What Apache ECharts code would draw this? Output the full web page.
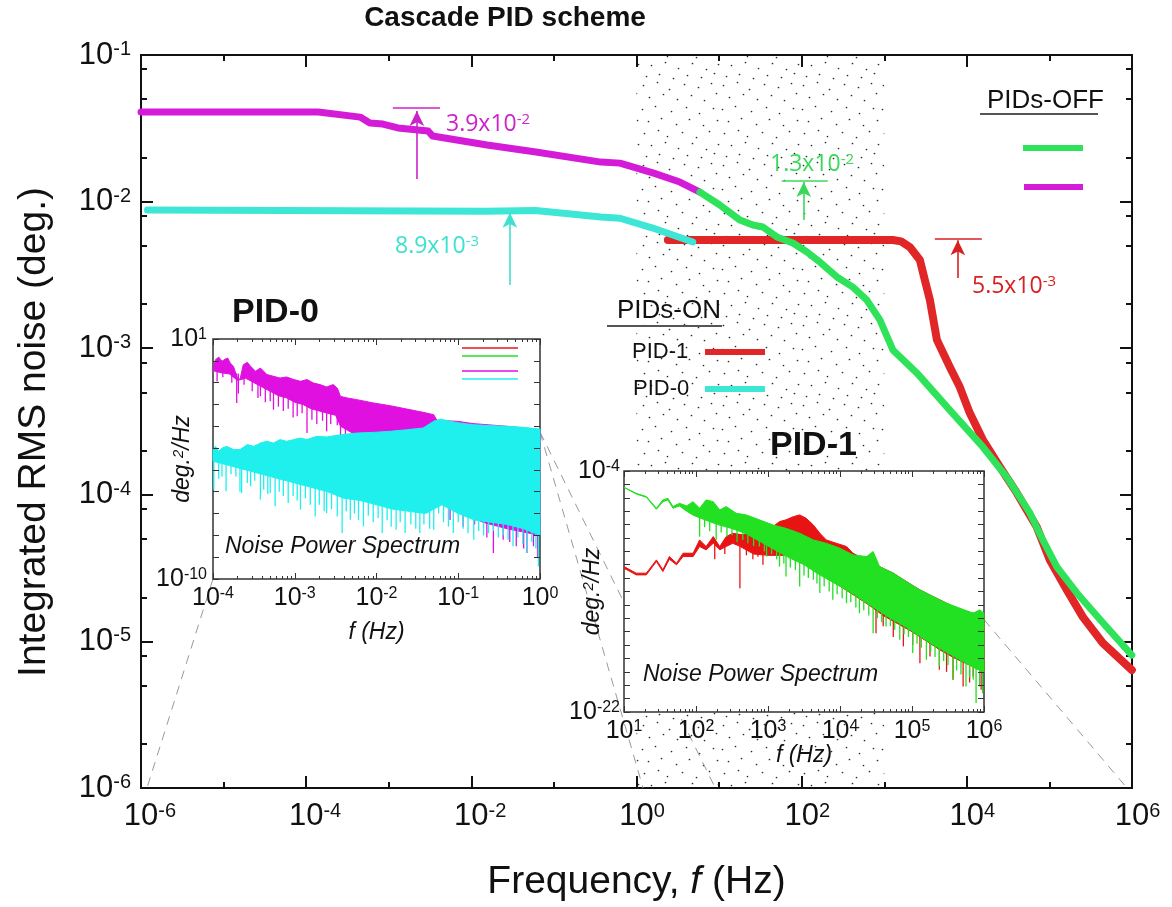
<!DOCTYPE html>
<html><head><meta charset="utf-8">
<script src="https://cdn.jsdelivr.net/npm/echarts@6/dist/echarts.min.js"></script>
<style>html,body{margin:0;padding:0;background:#fff;}#c{width:1172px;height:907px;}</style>
</head><body><div id="c"></div>
<script>
// ===== Main chart: integrated RMS noise curves, [frequency (Hz), noise (deg.)] =====
const offPid0 = [[1e-6,0.0408],[1.4e-4,0.0408],[4.5e-4,0.0377],[5.9e-4,0.0344],[8.5e-4,0.0338],[1.29e-3,0.0318],[3.0e-3,0.0303],[3.4e-3,0.0280],[0.0155,0.0243],[0.0605,0.0218],[0.371,0.0186],[0.63,0.0183],[1.58,0.0157],[3.35,0.0136],[5.86,0.0116]];
const offPid1 = [[5.86,0.0116],[10.2,0.00948],[17.9,0.00748],[25.6,0.00692],[33.9,0.00671],[50.1,0.00574],[78.2,0.00522],[116,0.00453],[166,0.00387],[267,0.00306],[417,0.00261],[615,0.00213],[885,0.00156],[1270,9.73e-4],[2480,6.78e-4],[6220,3.78e-4],[15630,2.12e-4],[30480,1.32e-4],[57940,7.52e-5],[83180,4.92e-5],[123000,3.22e-5],[214800,2.14e-5],[443600,1.34e-5],[995000,8.07e-6]];
const onPid0 = [[1.2e-6,0.00875],[0.015,0.0086],[0.06,0.0087],[0.37,0.00785],[0.63,0.0077],[1.58,0.0066],[4.8,0.0053]];
const onPid1 = [[2.4,0.00547],[1270,0.00547],[1600,0.00535],[2040,0.0049],[2700,0.0040],[3100,0.00292],[3570,0.00213],[4340,0.00114],[6220,7.45e-4],[8220,5.43e-4],[10860,3.61e-4],[15630,2.37e-4],[25120,1.55e-4],[40270,1.03e-4],[70300,6.03e-5],[101200,3.59e-5],[162600,2.24e-5],[253500,1.47e-5],[442600,9.75e-6],[995000,6.38e-6]];
// stippled band (Hz)
const stippleBand = [1, 1000];
// annotation marks: level bar ends and arrow ends, [frequency, noise]
const annMagentaBar = [[1.12e-3,0.0435],[4.17e-3,0.0435]];
const annMagentaArrow = [[2.19e-3,0.01426],[2.19e-3,0.0415]];
const annCyanArrow = [[0.0293,2.70e-3],[0.0293,0.0084]];
const annGreenBar = [[57.5,0.01384],[207,0.01384]];
const annGreenArrow = [[106,7.48e-3],[106,0.0136]];
const annRedBar = [[4100,5.56e-3],[15200,5.56e-3]];
const annRedArrow = [[7780,3.01e-3],[7780,5.45e-3]];
const annTexts = [['3.9x10','-2'],['8.9x10','-3'],['1.3x10','-2'],['5.5x10','-3']];

// ===== Inset PID-0 spectra, [log10 f, log10 PSD]: upper edge, dense-core lower edge, spike tips =====
const pid0MagUpper = [[-4.00,-0.41],[-3.97,0.05],[-3.93,0.17],[-3.89,-0.02],[-3.85,0.08],[-3.82,0.13],[-3.79,-0.10],[-3.75,-0.25],[-3.71,-0.71],[-3.67,-0.86],[-3.63,-0.18],[-3.58,-0.07],[-3.54,-0.25],[-3.48,-0.48],[-3.42,-0.33],[-3.34,-0.63],[-3.26,-0.71],[-3.18,-0.79],[-3.10,-0.74],[-3.01,-0.86],[-2.93,-0.94],[-2.85,-0.86],[-2.77,-1.02],[-2.69,-1.09],[-2.61,-1.20],[-2.53,-1.09],[-2.48,-1.25],[-2.44,-1.63],[-2.36,-1.70],[-2.24,-1.78],[-2.04,-1.93],[-1.83,-2.06],[-1.63,-2.21],[-1.43,-2.36],[-1.30,-2.47],[-1.26,-2.73],[-1.02,-2.77],[-0.81,-2.88],[-0.41,-3.00],[-0.20,-3.08],[0.00,-3.23]];
const pid0MagCore = [[-4.00,-0.45],[-3.90,-0.55],[-3.80,-0.60],[-3.70,-0.90],[-3.60,-0.80],[-3.50,-1.00],[-3.40,-1.20],[-3.30,-1.40],[-3.20,-1.60],[-3.10,-1.70],[-3.00,-1.90],[-2.90,-2.00],[-2.80,-2.20],[-2.70,-2.30],[-2.60,-2.40],[-2.50,-2.50],[-2.44,-3.00],[-2.30,-3.30],[-2.00,-3.50],[-1.60,-3.70],[-1.30,-4.50],[-1.20,-6.00],[-1.00,-6.80],[-0.70,-7.40],[-0.40,-7.70],[0.00,-8.00]];
const pid0MagSpikes = [[-3.95,-0.95],[-3.88,-0.75],[-3.77,-1.00],[-3.71,-1.93],[-3.69,-1.50],[-3.62,-1.10],[-3.52,-1.40],[-3.45,-1.70],[-3.42,-1.63],[-3.36,-1.90],[-3.30,-1.85],[-3.26,-2.24],[-3.20,-2.10],[-3.14,-2.30],[-3.08,-2.20],[-3.02,-2.60],[-2.97,-2.54],[-2.91,-2.40],[-2.85,-3.31],[-2.79,-2.70],[-2.73,-2.90],[-2.66,-2.75],[-2.61,-3.23],[-2.56,-2.90],[-2.48,-2.95],[-2.44,-3.92],[-2.38,-3.50],[-1.10,-7.30],[-0.94,-7.60],[-0.80,-7.50],[-0.65,-8.10],[-0.57,-8.81],[-0.45,-8.20],[-0.37,-8.30],[-0.29,-8.50],[-0.20,-8.60],[-0.16,-8.81],[-0.08,-8.50],[-0.03,-9.00]];
const pid0CyanUpper = [[-4.00,-4.07],[-3.97,-3.92],[-3.93,-4.15],[-3.89,-4.00],[-3.83,-3.92],[-3.75,-4.07],[-3.67,-4.07],[-3.58,-3.84],[-3.50,-3.92],[-3.42,-3.77],[-3.34,-3.69],[-3.26,-3.77],[-3.18,-3.61],[-3.10,-3.69],[-3.01,-3.61],[-2.93,-3.54],[-2.85,-3.61],[-2.73,-3.46],[-2.61,-3.49],[-2.44,-3.39],[-2.24,-3.31],[-2.04,-3.28],[-1.83,-3.23],[-1.63,-3.16],[-1.43,-3.08],[-1.30,-2.77],[-1.22,-2.67],[-1.10,-2.77],[-0.98,-2.85],[-0.81,-2.93],[-0.61,-2.97],[-0.41,-3.00],[-0.20,-3.05],[0.00,-3.13]];
const pid0CyanCore = [[-4.00,-4.60],[-3.80,-4.80],[-3.60,-5.00],[-3.40,-5.20],[-3.20,-5.40],[-3.00,-5.60],[-2.80,-5.80],[-2.60,-6.00],[-2.40,-6.30],[-2.20,-6.40],[-2.00,-6.60],[-1.80,-6.80],[-1.60,-6.90],[-1.40,-7.00],[-1.20,-6.60],[-1.00,-7.00],[-0.80,-7.30],[-0.60,-7.40],[-0.40,-7.50],[-0.20,-7.70],[0.00,-8.00]];
const pid0CyanSpikes = [[-3.99,-5.90],[-3.93,-5.40],[-3.89,-5.30],[-3.84,-5.98],[-3.78,-5.20],[-3.72,-5.30],[-3.67,-6.00],[-3.65,-6.06],[-3.58,-5.60],[-3.54,-5.75],[-3.49,-5.50],[-3.42,-6.36],[-3.38,-5.90],[-3.33,-6.10],[-3.30,-6.06],[-3.24,-6.67],[-3.19,-6.00],[-3.14,-6.20],[-3.08,-6.52],[-3.02,-6.20],[-2.97,-6.40],[-2.93,-6.82],[-2.87,-6.30],[-2.81,-6.60],[-2.75,-7.13],[-2.70,-6.60],[-2.64,-6.90],[-2.61,-6.98],[-2.55,-6.80],[-2.48,-7.13],[-2.42,-7.89],[-2.37,-6.90],[-2.32,-7.28],[-2.27,-7.00],[-2.22,-7.30],[-2.16,-7.59],[-2.10,-7.10],[-2.04,-7.40],[-1.98,-7.20],[-1.93,-7.89],[-1.87,-7.30],[-1.82,-7.60],[-1.76,-7.74],[-1.71,-7.40],[-1.65,-7.89],[-1.58,-7.50],[-1.52,-7.70],[-1.47,-7.89],[-1.42,-7.50],[-1.35,-7.70],[-1.30,-7.74],[-1.24,-7.00],[-1.18,-7.40],[-1.12,-7.60],[-1.06,-7.89],[-1.00,-7.40],[-0.94,-7.70],[-0.88,-7.90],[-0.81,-8.20],[-0.75,-7.80],[-0.69,-8.00],[-0.63,-7.90],[-0.57,-7.80],[-0.51,-8.10],[-0.45,-8.00],[-0.39,-8.20],[-0.33,-8.50],[-0.27,-8.10],[-0.21,-8.40],[-0.16,-8.81],[-0.10,-8.30],[-0.05,-8.60],[-0.02,-9.42]];

// ===== Inset PID-1 spectra, [log10 f, log10 PSD] =====
const pid1GreenUpper = [[1.00,-5.22],[1.17,-5.67],[1.31,-5.91],[1.45,-6.78],[1.54,-6.16],[1.61,-6.04],[1.68,-6.66],[1.77,-6.41],[1.87,-6.61],[1.96,-6.29],[2.05,-6.78],[2.14,-6.16],[2.24,-6.29],[2.33,-6.91],[2.42,-6.66],[2.56,-7.16],[2.70,-7.28],[2.88,-7.65],[3.07,-8.03],[3.25,-8.28],[3.44,-8.65],[3.63,-9.15],[3.81,-9.40],[4.00,-9.77],[4.18,-10.27],[4.37,-10.39],[4.46,-10.02],[4.55,-11.14],[4.74,-11.63],[4.92,-12.25],[5.11,-12.88],[5.29,-13.37],[5.48,-13.87],[5.66,-14.24],[5.85,-14.62],[5.94,-14.37],[6.00,-14.62]];
const pid1GreenCore = [[1.00,-5.22],[1.17,-5.72],[1.31,-5.96],[1.45,-6.86],[1.54,-6.29],[1.61,-6.16],[1.68,-6.78],[1.77,-6.61],[1.87,-7.00],[1.96,-7.30],[2.10,-7.60],[2.30,-8.00],[2.50,-8.30],[2.70,-8.70],[2.90,-9.30],[3.10,-9.90],[3.30,-10.50],[3.50,-11.00],[3.70,-11.70],[3.90,-12.30],[4.10,-12.90],[4.30,-13.60],[4.50,-14.30],[4.70,-15.00],[4.90,-15.60],[5.10,-16.30],[5.30,-17.00],[5.50,-17.60],[5.70,-18.20],[5.90,-18.80],[6.00,-19.00]];
const pid1GreenSpikes = [[2.05,-8.90],[2.12,-8.20],[2.19,-8.50],[2.28,-9.15],[2.35,-8.60],[2.43,-8.90],[2.50,-8.80],[2.57,-9.30],[2.65,-9.15],[2.72,-9.40],[2.80,-9.60],[2.88,-9.64],[2.95,-10.00],[2.98,-10.39],[3.05,-10.20],[3.12,-10.60],[3.16,-11.14],[3.22,-10.90],[3.25,-11.88],[3.31,-11.20],[3.38,-11.40],[3.44,-12.63],[3.50,-11.80],[3.56,-12.00],[3.63,-12.13],[3.68,-12.40],[3.72,-13.12],[3.78,-12.60],[3.85,-13.00],[3.90,-13.62],[3.96,-13.20],[4.03,-13.50],[4.09,-13.87],[4.15,-13.80],[4.22,-14.20],[4.27,-14.62],[4.33,-14.40],[4.40,-14.80],[4.46,-16.11],[4.52,-15.00],[4.58,-15.30],[4.64,-15.61],[4.70,-15.60],[4.76,-15.86],[4.83,-16.61],[4.89,-16.20],[4.95,-16.40],[5.01,-17.60],[5.07,-16.90],[5.13,-17.20],[5.20,-18.10],[5.26,-17.50],[5.32,-17.90],[5.38,-18.60],[5.44,-18.20],[5.50,-18.50],[5.57,-19.59],[5.62,-18.90],[5.68,-19.20],[5.75,-20.09],[5.80,-19.40],[5.85,-19.59],[5.89,-21.33],[5.94,-20.09],[5.98,-20.60]];
const pid1RedUpper = [[1.00,-11.14],[1.17,-11.63],[1.31,-11.63],[1.45,-10.64],[1.54,-11.38],[1.63,-10.39],[1.73,-10.89],[1.82,-10.14],[1.96,-10.14],[2.05,-9.15],[2.14,-9.64],[2.24,-8.90],[2.33,-9.64],[2.42,-8.90],[2.51,-8.65],[2.65,-8.77],[2.79,-8.53],[2.93,-8.65],[3.07,-8.15],[3.16,-7.78],[3.25,-7.65],[3.35,-7.41],[3.44,-7.28],[3.53,-7.53],[3.63,-8.03],[3.72,-8.65],[3.81,-9.15],[3.95,-9.40],[4.09,-9.64],[4.18,-10.14],[4.27,-10.39],[4.41,-10.89],[4.55,-11.14],[4.74,-11.63],[4.92,-12.25],[5.11,-12.88],[5.29,-13.37],[5.48,-13.87],[5.66,-14.37],[5.85,-14.62],[6.00,-14.86]];
const pid1RedCore = [[1.00,-11.26],[1.17,-11.76],[1.31,-11.76],[1.45,-10.76],[1.54,-11.51],[1.63,-10.59],[1.73,-11.01],[1.82,-10.39],[1.96,-10.39],[2.05,-9.64],[2.14,-9.89],[2.24,-9.40],[2.33,-9.89],[2.42,-9.64],[2.51,-9.40],[2.60,-9.60],[2.80,-10.20],[3.00,-10.30],[3.25,-10.30],[3.44,-10.60],[3.63,-11.10],[3.81,-12.00],[4.00,-12.60],[4.20,-13.30],[4.40,-14.00],[4.60,-14.80],[4.80,-15.40],[5.00,-16.00],[5.20,-16.70],[5.40,-17.40],[5.60,-18.00],[5.80,-18.50],[6.00,-19.00]];
const pid1RedSpikes = [[2.26,-10.60],[2.40,-10.20],[2.61,-12.75],[2.70,-10.30],[2.79,-10.60],[2.86,-10.40],[2.93,-11.00],[4.50,-16.11],[4.60,-15.60],[4.74,-16.40],[4.88,-17.10],[5.01,-17.00],[5.11,-18.35],[5.25,-17.85],[5.38,-18.84],[5.48,-19.00],[5.57,-19.59],[5.71,-20.09],[5.80,-19.80],[5.85,-19.34],[5.96,-20.34]];

// ===== Tick values (exponents / factors) =====
const mainXMajorExp = [-6,-4,-2,0,2,4,6];
const mainXMinorExp = [-5,-3,-1,1,3,5];
const mainYMajorExp = [-6,-5,-4,-3,-2,-1];
const mainYMinorFactors = [2,5,8];
const pid0XExp = [-4,-3,-2,-1,0];
const pid0YLabelExp = [-10,1];
const pid1XExp = [1,2,3,4,5,6];
const pid1YLabelExp = [-22,-4];
const insetMinorFactors = [2,3,4,5,6,7,8,9];

const FONT = "'Liberation Sans', Arial, Helvetica, sans-serif";
const ANNFONT = "'Open Sans', 'Liberation Sans', sans-serif";
const C = {mag:'#d41cd8', green:'#2ee35a', cyan:'#3ee6d6', red:'#e02626',
           iMag:'#e010e0', iCyan:'#1ff0ee', iRed:'#e81414', iGreen:'#22e022'};

const p10 = e => Math.pow(10, e);
function range(a,b){const r=[];for(let i=a;i<=b;i++)r.push(i);return r;}
function minorVals(e0,e1,f){const r=[];for(let e=e0;e<e1;e++)f.forEach(k=>r.push(k*p10(e)));return r;}
function nudge(vals,min,max){return vals.map(v=>Math.min(Math.max(v,min*1.000001),max*0.999999));}
function supFmt(v){return '{a|10}{b|'+Math.round(Math.log10(v))+'}';}
function supFmtCentered(v){const e=Math.round(Math.log10(v));return '{p|'+e+'}{a|10}{b|'+e+'}';}
function rich(big,small,col){const c=col||'#111';return {a:{fontSize:big,fontFamily:FONT,color:c},b:{fontSize:small,fontFamily:FONT,color:c,verticalAlign:'top'},p:{fontSize:small,fontFamily:FONT,color:'rgba(0,0,0,0)',verticalAlign:'top'}};}

function ax(o){
  return {
    type:'log', logBase:10, gridIndex:o.grid, position:o.pos, min:o.min, max:o.max, z:o.z||3,
    axisLine:{show:false}, splitLine:{show:false},
    axisTick:o.ticks?{show:true,inside:true,length:o.len,customValues:nudge(o.ticks,o.min,o.max),lineStyle:{color:o.tc||'#111',width:o.tw||1.5}}:{show:false},
    axisLabel:o.labels?{show:true,customValues:nudge(o.labels,o.min,o.max),formatter:o.fmt||supFmt,rich:rich(o.fs,o.ss),margin:o.margin}:{show:false},
    name:o.name||'', nameLocation:'middle', nameGap:o.nameGap||0, nameTextStyle:o.nameStyle||{}, nameRotate:o.nameRotate,
    nameMoveOverlap:false
  };
}

// stipple pattern tile
const dots=[[3,5],[17,2],[29,9],[44,4],[58,7],[71,3],[9,17],[23,14],[37,19],[51,15],[64,20],[76,13],[2,29],[15,26],[31,31],[46,27],[59,33],[73,28],[8,41],[21,38],[36,44],[49,39],[63,45],[77,40],[4,53],[18,50],[27,56],[42,52],[56,57],[69,51],[11,65],[25,62],[38,68],[52,63],[66,69],[78,64],[6,76],[19,74],[33,78],[47,75],[61,77],[74,73]];
const tile=document.createElement('canvas');tile.width=80;tile.height=80;
(function(){const g=tile.getContext('2d');g.fillStyle='#2a2a2a';dots.forEach(d=>{g.beginPath();g.arc(d[0]+0.5,d[1]+0.5,0.85,0,Math.PI*2);g.fill();});})();

function edgeAt(arr,lf){
  if(lf<=arr[0][0])return arr[0][1];
  for(let i=1;i<arr.length;i++){if(lf<=arr[i][0]){const a=arr[i-1],b=arr[i];return a[1]+(b[1]-a[1])*(lf-a[0])/(b[0]-a[0]);}}
  return arr[arr.length-1][1];
}
function band(xi,yi,upper,core,spikes,color,z){
  return {type:'custom',xAxisIndex:xi,yAxisIndex:yi,z:z,silent:true,animation:false,
    data:[[p10(upper[0][0]),p10(upper[0][1])]],
    renderItem:function(params,api){
      const pts=[];
      upper.forEach(p=>pts.push(api.coord([p10(p[0]),p10(p[1])])));
      for(let i=core.length-1;i>=0;i--)pts.push(api.coord([p10(core[i][0]),p10(core[i][1])]));
      const kids=[{type:'polygon',shape:{points:pts},style:{fill:color,stroke:color,lineWidth:1,lineJoin:'round'}}];
      spikes.forEach(s=>{
        const a=api.coord([p10(s[0]),p10(s[1])]);
        const b=api.coord([p10(s[0]),p10(edgeAt(core,s[0])+0.3)]);
        kids.push({type:'line',shape:{x1:a[0],y1:a[1],x2:b[0],y2:b[1]},style:{stroke:color,lineWidth:1.3}});
      });
      return {type:'group',children:kids};
    }};
}
function mark(segs,color){
  return {silent:true,symbol:['none','none'],label:{show:false},lineStyle:{color:color,width:1.6,type:'solid'},
    data:segs.map(s=>[{coord:s.pts[0],symbol:'none'},{coord:s.pts[1],symbol:s.arrow?'arrow':'none',symbolSize:s.arrow?[11,15]:0}])};
}
function mainLine(data,color,w,z,ml){
  return {type:'line',xAxisIndex:0,yAxisIndex:0,data:data,showSymbol:false,z:z,silent:true,
    lineStyle:{color:color,width:w,cap:'round',join:'round'},markLine:ml};
}

const chart=echarts.init(document.getElementById('c'));
const mainNameStyle={fontSize:39,fontFamily:FONT,color:'#111'};
const insetNameStyle={fontSize:23,fontStyle:'italic',fontFamily:FONT,color:'#111',rich:{s:{fontSize:15,fontStyle:'italic',fontFamily:FONT,verticalAlign:'top',color:'#111'}}};
chart.setOption({
  animation:false, backgroundColor:'#fff',
  grid:[
    {left:141,top:55,width:991,height:733,show:true,borderColor:'#111',borderWidth:2,backgroundColor:'transparent',z:2},
    {left:213,top:339,width:327,height:240,show:true,borderColor:'#333',borderWidth:1.5,backgroundColor:'#fff',z:10},
    {left:624,top:471,width:360,height:241,show:true,borderColor:'#333',borderWidth:1.5,backgroundColor:'#fff',z:10}
  ],
  xAxis:[
    ax({grid:0,pos:'bottom',min:1e-6,max:1e6,ticks:mainXMajorExp.map(p10),len:12,tw:2,labels:mainXMajorExp.map(p10),fmt:supFmtCentered,fs:31,ss:20,margin:13,
        name:'Frequency, {i|f} (Hz)',nameGap:75,nameStyle:Object.assign({rich:{i:{fontSize:39,fontFamily:FONT,fontStyle:'italic',color:'#111'}}},mainNameStyle)}),
    ax({grid:0,pos:'bottom',min:1e-6,max:1e6,ticks:mainXMinorExp.map(p10),len:6,tw:2}),
    ax({grid:0,pos:'top',min:1e-6,max:1e6,ticks:mainXMajorExp.map(p10),len:12,tw:2}),
    ax({grid:0,pos:'top',min:1e-6,max:1e6,ticks:mainXMinorExp.map(p10),len:6,tw:2}),
    ax({grid:1,pos:'bottom',min:1e-4,max:1,z:12,ticks:pid0XExp.map(p10),len:6,tc:'#333',tw:1,labels:pid0XExp.map(p10),fs:25,ss:16,margin:7,
        name:'f (Hz)',nameGap:42,nameStyle:insetNameStyle}),
    ax({grid:1,pos:'bottom',min:1e-4,max:1,z:12,ticks:minorVals(-4,0,insetMinorFactors),len:3,tc:'#333',tw:1}),
    ax({grid:1,pos:'top',min:1e-4,max:1,z:12,ticks:pid0XExp.map(p10),len:6,tc:'#333',tw:1}),
    ax({grid:1,pos:'top',min:1e-4,max:1,z:12,ticks:minorVals(-4,0,insetMinorFactors),len:3,tc:'#333',tw:1}),
    ax({grid:2,pos:'bottom',min:10,max:1e6,z:12,ticks:pid1XExp.map(p10),len:6,tc:'#333',tw:1,labels:pid1XExp.map(p10),fs:25,ss:16,margin:7,
        name:'f (Hz)',nameGap:32,nameStyle:insetNameStyle}),
    ax({grid:2,pos:'bottom',min:10,max:1e6,z:12,ticks:minorVals(1,6,insetMinorFactors),len:3,tc:'#333',tw:1}),
    ax({grid:2,pos:'top',min:10,max:1e6,z:12,ticks:pid1XExp.map(p10),len:6,tc:'#333',tw:1}),
    ax({grid:2,pos:'top',min:10,max:1e6,z:12,ticks:minorVals(1,6,insetMinorFactors),len:3,tc:'#333',tw:1})
  ],
  yAxis:[
    ax({grid:0,pos:'left',min:1e-6,max:0.1,ticks:mainYMajorExp.map(p10),len:12,tw:2,labels:mainYMajorExp.map(p10),fs:31,ss:20,margin:10}),
    ax({grid:0,pos:'left',min:1e-6,max:0.1,ticks:minorVals(-6,-1,mainYMinorFactors),len:6,tw:2}),
    ax({grid:0,pos:'right',min:1e-6,max:0.1,ticks:mainYMajorExp.map(p10),len:12,tw:2}),
    ax({grid:0,pos:'right',min:1e-6,max:0.1,ticks:minorVals(-6,-1,mainYMinorFactors),len:6,tw:2}),
    ax({grid:1,pos:'left',min:1e-10,max:10,z:12,ticks:range(-10,1).map(p10),len:6,tc:'#333',tw:1,labels:pid0YLabelExp.map(p10),fs:25,ss:16,margin:6,
        name:'deg.{s|2}/Hz',nameGap:19,nameStyle:insetNameStyle}),
    ax({grid:1,pos:'right',min:1e-10,max:10,z:12,ticks:range(-10,1).map(p10),len:6,tc:'#333',tw:1}),
    ax({grid:2,pos:'left',min:1e-22,max:1e-4,z:12,ticks:range(-22,-4).map(p10),len:6,tc:'#333',tw:1,labels:pid1YLabelExp.map(p10),fs:25,ss:16,margin:4,
        name:'deg.{s|2}/Hz',nameGap:20,nameStyle:insetNameStyle}),
    ax({grid:2,pos:'right',min:1e-22,max:1e-4,z:12,ticks:range(-22,-4).map(p10),len:6,tc:'#333',tw:1})
  ],
  series:[
    {type:'line',xAxisIndex:0,yAxisIndex:0,data:[],z:1,silent:true,
     markArea:{silent:true,itemStyle:{color:{image:tile,repeat:'repeat'},opacity:1},data:[[{xAxis:stippleBand[0]},{xAxis:stippleBand[1]}]]}},
    mainLine(onPid1,C.red,8,3,mark([{pts:annRedBar},{pts:annRedArrow,arrow:true}],'#d82020')),
    mainLine(onPid0,C.cyan,7,3,mark([{pts:annCyanArrow,arrow:true}],'#3ee0d0')),
    mainLine(offPid0,C.mag,7,3,mark([{pts:annMagentaBar},{pts:annMagentaArrow,arrow:true}],'#cc22cc')),
    mainLine(offPid1,C.green,7,4,mark([{pts:annGreenBar},{pts:annGreenArrow,arrow:true}],'#3ad85a')),
    band(4,4,pid0MagUpper,pid0MagCore,pid0MagSpikes,C.iMag,11),
    band(4,4,pid0CyanUpper,pid0CyanCore,pid0CyanSpikes,C.iCyan,11),
    band(8,6,pid1RedUpper,pid1RedCore,pid1RedSpikes,C.iRed,11),
    band(8,6,pid1GreenUpper,pid1GreenCore,pid1GreenSpikes,C.iGreen,11)
  ]
});

// ===== dashed guide lines (from inset corners to main axis), decorative texts =====
const px=(f,v,xi,yi)=>chart.convertToPixel({xAxisIndex:xi,yAxisIndex:yi},[f,v]);
const guides=[
  [px(1e-4,1e-10,4,4), px(1.18e-6,1e-6,0,0)],
  [px(1,5.5e-4,4,4), px(9,1e-6,0,0)],
  [px(1,5.5e-4,4,4), px(1.2,1e-6,0,0)],
  [px(1e6,p10(-15.1),8,6), px(8.7e5,1e-6,0,0)]
];
const g=[];
guides.forEach(s=>g.push({type:'line',z:5,silent:true,shape:{x1:s[0][0],y1:s[0][1],x2:s[1][0],y2:s[1][1]},style:{stroke:'#9a9a9a',lineWidth:1,lineDash:[9,7]}}));
function txt(x,y,text,size,opts){opts=opts||{};return {type:'text',z:20,silent:true,x:x,y:y,rotation:opts.rotation||0,style:Object.assign({text:text,fontSize:size,fontFamily:FONT,fill:'#111',align:opts.align||'left',verticalAlign:'middle'},opts.style||{})};}
function hl(x1,x2,y,color,w){return {type:'line',z:20,silent:true,shape:{x1:x1,y1:y,x2:x2,y2:y},style:{stroke:color,lineWidth:w}};}
function ann(x,y,pair,color){return {type:'text',z:20,silent:true,x:x,y:y,style:{text:'{a|'+pair[0]+'}{b|'+pair[1]+'}',verticalAlign:'middle',align:'left',
  rich:{a:{fontSize:23,fontFamily:ANNFONT,fill:color,color:color},b:{fontSize:15,fontFamily:ANNFONT,fill:color,color:color,verticalAlign:'top'}}}};}
g.push(txt(505,18,'Cascade PID scheme',28,{align:'center',style:{fontWeight:'bold'}}));
g.push(txt(34,432,'Integrated RMS noise (deg.)',39,{align:'center',rotation:Math.PI/2}));
g.push(ann(446,124,annTexts[0],'#cc22cc'));
g.push(ann(395,246,annTexts[1],'#3ee0d0'));
g.push(ann(770,164,annTexts[2],'#3ad85a'));
g.push(ann(972,286,annTexts[3],'#d82020'));
g.push(txt(987,101,'PIDs-OFF',26));
g.push(hl(980,1098,114,'#555',2));
g.push(hl(1023,1083,148,C.green,6));
g.push(hl(1024,1083,187,C.mag,6));
g.push(txt(617,311,'PIDs-ON',26));
g.push(hl(607,722,326,'#555',2));
g.push(txt(632,352,'PID-1',22));
g.push(hl(705,765,352,C.red,6));
g.push(txt(633,389,'PID-0',22));
g.push(hl(705,765,389,C.cyan,6));
g.push(txt(232,313,'PID-0',34,{style:{fontWeight:'bold'}}));
g.push(txt(770,446,'PID-1',34,{style:{fontWeight:'bold'}}));
g.push(txt(225,547,'Noise Power Spectrum',23,{style:{fontStyle:'italic'}}));
g.push(txt(643,675,'Noise Power Spectrum',23,{style:{fontStyle:'italic'}}));
g.push(hl(462,518,348,C.iRed,1.5));
g.push(hl(462,518,356,C.iGreen,1.5));
g.push(hl(462,518,371,C.iMag,1.5));
g.push(hl(462,518,379,C.iCyan,1.5));
chart.setOption({graphic:g});
</script></body></html>
